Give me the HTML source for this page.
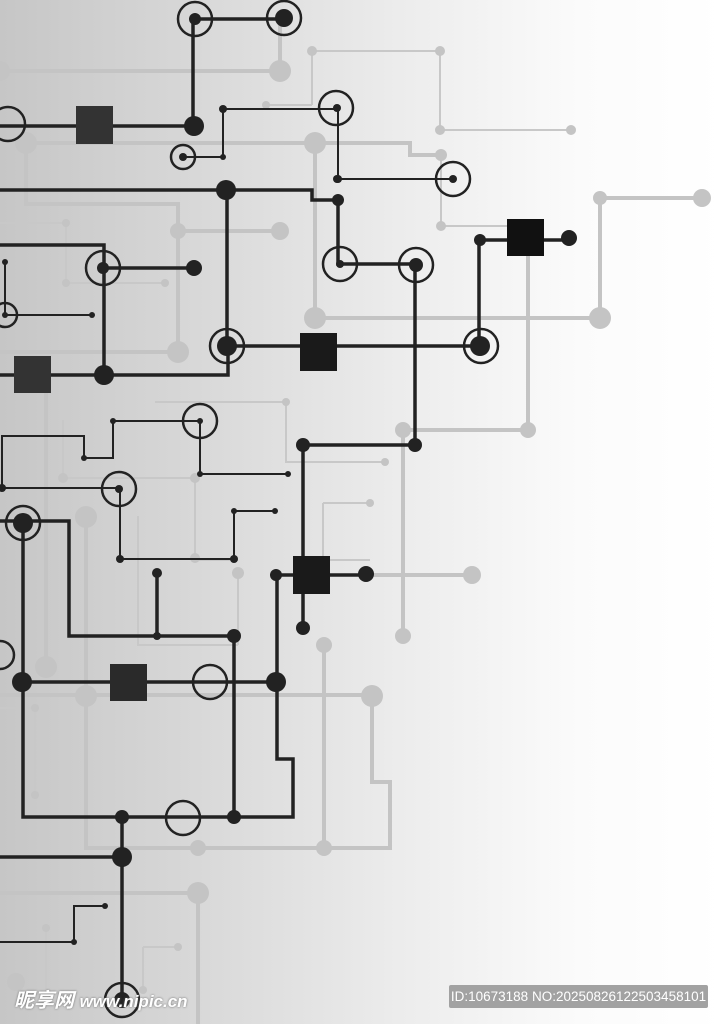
<!DOCTYPE html>
<html><head><meta charset="utf-8"><style>
html,body{margin:0;padding:0}
body{width:724px;height:1024px;overflow:hidden;background:linear-gradient(90deg,#c6c6c6 0%,#dadada 30%,#ececec 55%,#fbfbfb 80%,#fff 100%);position:relative;font-family:"Liberation Sans","Noto Sans CJK SC",sans-serif}
svg{position:absolute;left:0;top:0}
.badge{position:absolute;left:449px;top:985px;width:259px;height:23px;background:#a2a2a2;color:#fff;font-size:13.5px;line-height:23px;text-align:center;border-radius:2px}
.logo{position:absolute;left:14px;top:984px;color:#fff;font-weight:bold;font-style:italic;font-size:20px;text-shadow:0 0 2px #666}
.logo span{font-size:17px}
</style></head><body>
<svg width="724" height="1024" viewBox="0 0 724 1024">
<g stroke="#c4c4c4" fill="none" stroke-width="4">
<path d="M0 71H280V20"/><path d="M26 143H410V155H441"/><path d="M26 143V204H178V352H0"/><path d="M178 231H280"/>
<path d="M315 143V318H600V198H702"/><path d="M528 240V430H403V636"/><path d="M366 575H472"/>
<path d="M0 695H372V782H390V848H198"/><path d="M86 517V848H198"/><path d="M324 645V848"/><path d="M46 380V667"/>
<path d="M0 893H198V1024"/>
</g>
<g stroke="#c8c8c8" fill="none" stroke-width="2">
<path d="M312 105V51H440V130H571"/><path d="M441 155V226H528"/><path d="M266 105H312"/>
<path d="M66 223V283H165"/><path d="M0 223H66"/><path d="M63 420V478H195V560H238"/><path d="M155 402H286V462H385"/>
<path d="M323 503V560H370"/><path d="M323 503H370"/><path d="M238 573V645"/><path d="M0 708H35V795"/>
<path d="M46 928V1000"/><path d="M143 947H178"/><path d="M143 947V990"/><path d="M138 516V645H238"/>
</g>
<g fill="#c4c4c4">
<circle cx="0" cy="71" r="10"/><circle cx="280" cy="71" r="11"/><circle cx="26" cy="143" r="11"/><circle cx="315" cy="143" r="11"/>
<circle cx="441" cy="155" r="6"/><circle cx="178" cy="231" r="8"/><circle cx="280" cy="231" r="9"/><circle cx="178" cy="352" r="11"/>
<circle cx="315" cy="318" r="11"/><circle cx="600" cy="318" r="11"/><circle cx="600" cy="198" r="7"/><circle cx="702" cy="198" r="9"/>
<circle cx="528" cy="430" r="8"/><circle cx="403" cy="430" r="8"/><circle cx="403" cy="636" r="8"/><circle cx="472" cy="575" r="9"/>
<circle cx="86" cy="696" r="11"/><circle cx="372" cy="696" r="11"/><circle cx="198" cy="848" r="8"/><circle cx="324" cy="848" r="8"/>
<circle cx="324" cy="645" r="8"/><circle cx="46" cy="667" r="11"/><circle cx="198" cy="893" r="11"/><circle cx="86" cy="517" r="11"/>
<circle cx="312" cy="51" r="5"/><circle cx="440" cy="51" r="5"/><circle cx="440" cy="130" r="5"/><circle cx="571" cy="130" r="5"/>
<circle cx="441" cy="226" r="5"/><circle cx="266" cy="105" r="4"/><circle cx="66" cy="223" r="4"/><circle cx="66" cy="283" r="4"/><circle cx="165" cy="283" r="4"/>
<circle cx="63" cy="478" r="5"/><circle cx="195" cy="478" r="5"/><circle cx="195" cy="558" r="5"/><circle cx="286" cy="402" r="4"/><circle cx="385" cy="462" r="4"/>
<circle cx="238" cy="573" r="6"/><circle cx="370" cy="503" r="4"/><circle cx="35" cy="708" r="4"/><circle cx="35" cy="795" r="4"/><circle cx="16" cy="982" r="9"/>
<circle cx="46" cy="928" r="4"/><circle cx="178" cy="947" r="4"/><circle cx="143" cy="990" r="4"/>
</g>
<g stroke="#222" fill="none" stroke-width="3.5">
<path d="M195 19H284"/><path d="M193 19V126"/><path d="M0 126H194"/>
<path d="M0 190H312V200H338V264H415V445H303V628"/><path d="M227 190V346"/>
<path d="M227 346H480"/><path d="M479 346V240H569"/>
<path d="M0 245H104V375"/><path d="M103 268H194"/><path d="M0 375H228V346"/>
<path d="M0 521H69V636H234V817"/><path d="M157 573V636"/><path d="M23 523V817H293V759H277V575H366"/>
<path d="M22 682H276"/><path d="M0 857H122"/><path d="M122 817V1000"/>
</g>
<g stroke="#222" fill="none" stroke-width="2">
<path d="M223 109H338V179H453"/><path d="M223 109V157H183"/><path d="M5 262V315H92"/>
<path d="M2 488V436H84V458H113V421H200V474H288"/><path d="M2 488H120V559H234V511H275"/>
<path d="M105 906H74V942H0"/>
</g>
<g stroke="#222" fill="none" stroke-width="2.5">
<circle cx="195" cy="19" r="17"/><circle cx="284" cy="18" r="17"/><circle cx="8" cy="124" r="17"/><circle cx="336" cy="108" r="17"/>
<circle cx="183" cy="157" r="12"/><circle cx="453" cy="179" r="17"/><circle cx="340" cy="264" r="17"/><circle cx="416" cy="265" r="17"/>
<circle cx="227" cy="346" r="17"/><circle cx="481" cy="346" r="17"/><circle cx="103" cy="268" r="17"/><circle cx="5" cy="315" r="12"/>
<circle cx="200" cy="421" r="17"/><circle cx="119" cy="489" r="17"/><circle cx="23" cy="523" r="17"/><circle cx="183" cy="818" r="17"/>
<circle cx="210" cy="682" r="17"/><circle cx="122" cy="1000" r="17"/><circle cx="0" cy="655" r="14"/>
</g>
<g fill="#222">
<circle cx="195" cy="19" r="6"/><circle cx="284" cy="18" r="9"/><circle cx="194" cy="126" r="10"/><circle cx="223" cy="109" r="4"/><circle cx="337" cy="108" r="4"/>
<circle cx="223" cy="157" r="3"/><circle cx="183" cy="157" r="4"/><circle cx="337" cy="179" r="4"/><circle cx="453" cy="179" r="4"/>
<circle cx="226" cy="190" r="10"/><circle cx="338" cy="200" r="6"/><circle cx="338" cy="179" r="4"/><circle cx="340" cy="264" r="4"/><circle cx="416" cy="265" r="7"/>
<circle cx="415" cy="445" r="7"/><circle cx="303" cy="445" r="7"/><circle cx="303" cy="628" r="7"/>
<circle cx="227" cy="346" r="10"/><circle cx="480" cy="346" r="10"/><circle cx="480" cy="240" r="6"/><circle cx="569" cy="238" r="8"/>
<circle cx="103" cy="268" r="6"/><circle cx="194" cy="268" r="8"/><circle cx="104" cy="375" r="10"/>
<circle cx="5" cy="262" r="3"/><circle cx="5" cy="315" r="3"/><circle cx="92" cy="315" r="3"/>
<circle cx="84" cy="458" r="3"/><circle cx="113" cy="421" r="3"/><circle cx="200" cy="421" r="3"/><circle cx="200" cy="474" r="3"/><circle cx="288" cy="474" r="3"/>
<circle cx="2" cy="488" r="4"/><circle cx="119" cy="489" r="4"/><circle cx="120" cy="559" r="4"/><circle cx="234" cy="559" r="4"/><circle cx="234" cy="511" r="3"/><circle cx="275" cy="511" r="3"/>
<circle cx="23" cy="523" r="10"/><circle cx="157" cy="573" r="5"/><circle cx="157" cy="636" r="4"/><circle cx="234" cy="636" r="7"/>
<circle cx="122" cy="817" r="7"/><circle cx="234" cy="817" r="7"/><circle cx="276" cy="575" r="6"/><circle cx="366" cy="574" r="8"/>
<circle cx="22" cy="682" r="10"/><circle cx="276" cy="682" r="10"/><circle cx="122" cy="857" r="10"/><circle cx="122" cy="1000" r="8"/>
<circle cx="105" cy="906" r="3"/><circle cx="74" cy="942" r="3"/>
<rect x="76" y="106" width="37" height="38" fill="#333"/><rect x="300" y="333" width="37" height="38" fill="#1a1a1a"/>
<rect x="507" y="219" width="37" height="37" fill="#111"/><rect x="14" y="356" width="37" height="37" fill="#333"/>
<rect x="293" y="556" width="37" height="38" fill="#1a1a1a"/><rect x="110" y="664" width="37" height="37" fill="#2a2a2a"/>
</g>
</svg>
<div class="logo">昵享网 <span>www.nipic.cn</span></div>
<div class="badge">ID:10673188 NO:20250826122503458101</div>
</body></html>
